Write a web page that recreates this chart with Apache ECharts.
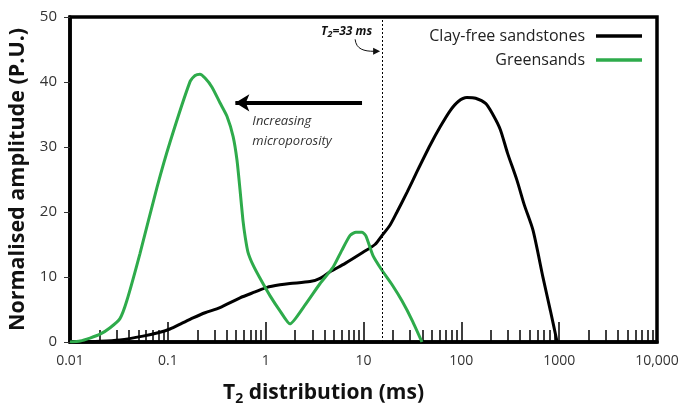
<!DOCTYPE html>
<html>
<head>
<meta charset="utf-8">
<script src="https://cdn.jsdelivr.net/npm/echarts@6/dist/echarts.min.js"></script>
<style>
  html, body { margin: 0; padding: 0; background: #fff; }
  #chart { width: 695px; height: 405px; }
</style>
</head>
<body>
<div id="chart"></div>
<script>
// T2 relaxation time (ms) and normalised amplitude (P.U.) for each rock type
const clayFreeT2 = [0.01, 0.0203, 0.0324, 0.0557, 0.0832, 0.105, 0.14, 0.181, 0.24, 0.341, 0.547, 0.78, 1.03, 1.40, 1.77, 2.84, 3.6, 4.55, 6.5, 9.89, 13.1, 15.5, 18.7, 22.0, 28.0, 35.2, 48.1, 60.8, 77, 93, 114, 140, 177, 210, 250, 296, 370, 440, 540, 684, 814, 953];
const clayFreeAmp = [0, 0.1, 0.3, 0.9, 1.5, 2.0, 2.9, 3.7, 4.5, 5.3, 6.8, 7.7, 8.4, 8.8, 9.0, 9.3, 9.8, 10.8, 12.1, 13.8, 15.0, 16.4, 18.0, 20.0, 23.1, 26.2, 30.3, 33.1, 35.6, 37.0, 37.6, 37.5, 36.7, 35.0, 32.7, 29.1, 24.9, 21.1, 17.2, 9.9, 4.8, 0];

const greensandT2 = [0.01, 0.0127, 0.016, 0.0203, 0.0257, 0.0324, 0.038, 0.0519, 0.0775, 0.105, 0.169, 0.19, 0.213, 0.24, 0.283, 0.341, 0.403, 0.465, 0.509, 0.547, 0.586, 0.62, 0.66, 0.74, 0.876, 1.11, 1.40, 1.77, 2.5, 3.6, 4.88, 6.0, 7.3, 8.38, 9.66, 10.6, 12.5, 15.5, 19.6, 24.8, 31.5, 39.6];
const greensandAmp = [0, 0.15, 0.6, 1.2, 2.2, 3.6, 6.3, 13.6, 23.8, 30.7, 40.1, 41.0, 41.2, 40.6, 39.2, 36.8, 34.7, 31.6, 28.0, 23.4, 18.7, 16.0, 13.8, 11.9, 9.8, 7.1, 4.8, 2.8, 5.6, 9.0, 11.5, 14.1, 16.4, 16.9, 16.9, 16.3, 13.3, 11.0, 8.8, 6.3, 3.3, 0];

// Axis ranges and tick settings
const xMin = 0.01, xMax = 10000;
const yMin = 0, yMax = 50, yStep = 10;

// Reference cut-off and annotation anchors (data units)
const cutoffT2 = 15.5;
const arrowFrom = [9.66, 36.8];
const arrowTo = [0.49, 36.8];

const font = '"Open Sans", "Noto Sans", sans-serif';
const green = '#2eab4b';

const pairs = (xs, ys) => xs.map((x, i) => [x, ys[i]]);

const chart = echarts.init(document.getElementById('chart'), null, { renderer: 'canvas' });

chart.setOption({
  animation: false,
  backgroundColor: '#fff',
  textStyle: { fontFamily: font },
  grid: {
    left: 70, right: 38, top: 17, bottom: 63,
    outerBoundsMode: 'none',
    containLabel: false,
    show: true, borderColor: '#000', borderWidth: 3.5
  },
  legend: {
    orient: 'vertical',
    right: 48, top: 23,
    align: 'right',
    itemWidth: 46, itemHeight: 3.5, itemGap: 8,
    icon: 'rect',
    textStyle: { fontSize: 16, color: '#222', fontFamily: font, padding: [0, 6, 0, 0] },
    data: ['Clay-free sandstones', 'Greensands']
  },
  xAxis: {
    type: 'log', logBase: 10, min: xMin, max: xMax,
    name: '{t|T}{s|2}{t| distribution (ms)}',
    nameLocation: 'middle', nameGap: 38,
    nameTextStyle: {
      padding: [0, 80, 0, 0],
      rich: {
        t: { fontSize: 21, fontWeight: 'bold', color: '#111', fontFamily: font },
        s: { fontSize: 14, fontWeight: 'bold', color: '#111', fontFamily: font, padding: [12, 0, 0, 0] }
      }
    },
    axisLine: { lineStyle: { color: '#000', width: 3.5 } },
    axisTick: { inside: true, length: 20, lineStyle: { color: '#000', width: 1.5 } },
    minorTick: { show: true, splitNumber: 9, length: 12, lineStyle: { color: '#000', width: 1.5 } },
    splitLine: { show: false },
    minorSplitLine: { show: false },
    axisLabel: {
      fontSize: 14, color: '#333', margin: 12,
      formatter: v => (v >= 10000 ? v.toLocaleString('en-US') : String(v))
    }
  },
  yAxis: {
    type: 'value', min: yMin, max: yMax, interval: yStep,
    name: 'Normalised amplitude (P.U.)',
    nameLocation: 'middle', nameGap: 34,
    nameTextStyle: { fontSize: 21.5, fontWeight: 'bold', color: '#111', fontFamily: font },
    axisLine: { lineStyle: { color: '#000', width: 3.5 } },
    axisTick: { length: 6, lineStyle: { color: '#333', width: 1 } },
    splitLine: { show: false },
    axisLabel: { fontSize: 15, color: '#333', margin: 13 }
  },
  series: [
    {
      name: 'Clay-free sandstones',
      type: 'line',
      data: pairs(clayFreeT2, clayFreeAmp),
      smooth: 0.25,
      showSymbol: false,
      lineStyle: { color: '#000', width: 3 },
      itemStyle: { color: '#000' },
      markLine: {
        silent: true,
        symbol: 'none',
        label: { show: false },
        lineStyle: { color: '#000', type: [2, 2], width: 1 },
        data: [{ xAxis: cutoffT2 }]
      },
      z: 3
    },
    {
      name: 'Greensands',
      type: 'line',
      data: pairs(greensandT2, greensandAmp),
      smooth: 0.2,
      showSymbol: false,
      lineStyle: { color: green, width: 3 },
      itemStyle: { color: green },
      markLine: {
        silent: true,
        symbol: ['none', 'arrow'],
        symbolSize: [13, 14],
        label: { show: false },
        lineStyle: { color: '#000', type: 'solid', width: 4 },
        data: [[{ coord: arrowFrom }, { coord: arrowTo }]]
      },
      z: 4
    }
  ]
});

// Annotations placed from data coordinates
const cut = chart.convertToPixel({ gridIndex: 0 }, [cutoffT2, 47.8]);
const arr = chart.convertToPixel({ gridIndex: 0 }, arrowTo);
chart.setOption({
  graphic: [
    {
      type: 'text',
      x: cut[0] - 10, y: cut[1],
      style: {
        text: '{a|T}{b|2}{a|=33 ms}',
        align: 'right', verticalAlign: 'middle',
        rich: {
          a: { fontSize: 12, fontWeight: 'bold', fontStyle: 'italic', fill: '#111', fontFamily: font },
          b: { fontSize: 9, fontWeight: 'bold', fontStyle: 'italic', fill: '#111', fontFamily: font, padding: [6, 0, 0, 0] }
        }
      }
    },
    {
      type: 'bezierCurve',
      shape: {
        x1: cut[0] - 27, y1: cut[1] + 8,
        cpx1: cut[0] - 26, cpy1: cut[1] + 18,
        cpx2: cut[0] - 18, cpy2: cut[1] + 20,
        x2: cut[0] - 8, y2: cut[1] + 20
      },
      style: { stroke: '#111', lineWidth: 1, fill: null }
    },
    {
      type: 'polygon',
      shape: { points: [[cut[0] - 2, cut[1] + 20], [cut[0] - 9, cut[1] + 16.5], [cut[0] - 9, cut[1] + 23.5]] },
      style: { fill: '#111' }
    },
    {
      type: 'text',
      x: arr[0] + 17, y: arr[1] + 28,
      style: {
        text: 'Increasing\nmicroporosity',
        fontSize: 13, fontStyle: 'italic', fill: '#333', fontFamily: font,
        lineHeight: 20, align: 'left', verticalAlign: 'middle'
      }
    }
  ]
});
</script>
</body>
</html>
